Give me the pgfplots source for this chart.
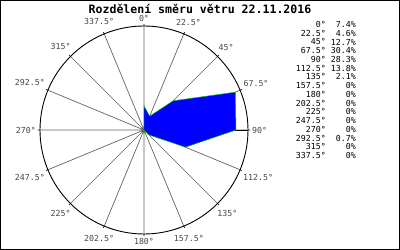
\documentclass[border=0pt]{standalone}
\usepackage{fontspec}
\setmainfont{DejaVu Sans Mono}
\setmonofont{DejaVu Sans Mono}
\usepackage{pgfplots}
\usepgfplotslibrary{polar}
\pgfplotsset{compat=1.18}
\usepackage{pgfplotstable}
\pgfplotstableread{
dir val
0 7.4
22.5 4.6
45 12.7
67.5 30.4
90 28.3
112.5 13.8
135 2.1
157.5 0
180 0
202.5 0
225 0
247.5 0
270 0
292.5 0.7
315 0
337.5 0
360 7.4
}\winddata
\definecolor{spoke}{RGB}{100,100,100}
\definecolor{lbl}{RGB}{70,70,70}
\begin{document}
\begin{tikzpicture}[x=1bp,y=1bp]
\useasboundingbox (0,0) rectangle (400,250);
\draw[black,line width=1bp] (0.5,0.5) rectangle (399.5,249.5);
\node[font=\fontsize{11.6}{13}\selectfont\bfseries] at (200,241) {Rozdělení směru větru 22.11.2016};
\begin{polaraxis}[
  at={(144bp,120bp)}, anchor=center,
  width=208bp, height=208bp, scale only axis,
  ymin=0, ymax=32,
  ytick=\empty,
  xtick={0,22.5,45,67.5,90,112.5,135,157.5,180,202.5,225,247.5,270,292.5,315,337.5},
  xticklabels={90°,67.5°,45°,22.5°,0°,337.5°,315°,292.5°,270°,247.5°,225°,202.5°,180°,157.5°,135°,112.5°},
  xticklabel style={font=\fontsize{8.3}{9}\selectfont, text=lbl, inner sep=1bp, shift={(\tick:3bp)}},
  xmajorgrids, major grid style={spoke, line width=0.7bp},
  major tick length=2bp, tick style={black, line width=0.6bp},
  axis line style={black, line width=0.9bp},
]
\addplot[fill=blue, draw=green!75!black, line width=0.5bp, mark=none]
  table[x expr={90-\thisrow{dir}}, y=val] {\winddata} -- cycle;
\end{polaraxis}
\foreach \a/\p [count=\i from 0] in {0°/7.4\%,22.5°/4.6\%,45°/12.7\%,67.5°/30.4\%,90°/28.3\%,112.5°/13.8\%,135°/2.1\%,157.5°/0\%,180°/0\%,202.5°/0\%,225°/0\%,247.5°/0\%,270°/0\%,292.5°/0.7\%,315°/0\%,337.5°/0\%}{
  \node[anchor=east, inner sep=0, font=\fontsize{8.3}{9}\selectfont] at (326, 225.5-8.73*\i) {\a};
  \node[anchor=east, inner sep=0, font=\fontsize{8.3}{9}\selectfont] at (356, 225.5-8.73*\i) {\p};
}
\end{tikzpicture}
\end{document}
